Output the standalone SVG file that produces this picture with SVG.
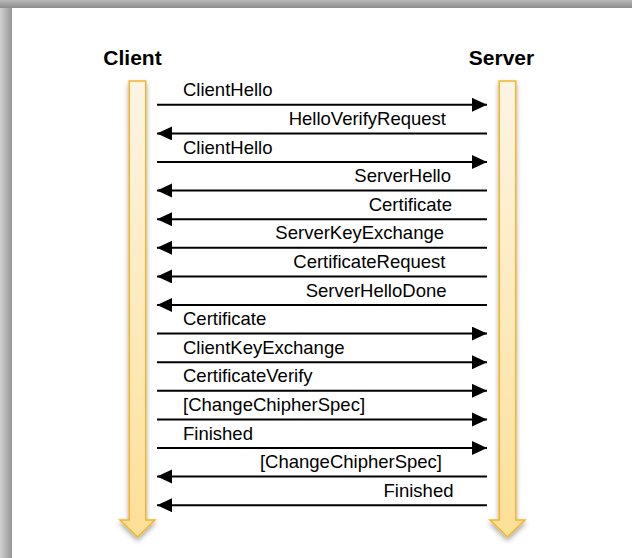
<svg xmlns="http://www.w3.org/2000/svg" width="632" height="558" viewBox="0 0 632 558">
<defs>
  <linearGradient id="leftGrad" x1="0" y1="0" x2="1" y2="0">
    <stop offset="0" stop-color="#d2d2d2"/>
    <stop offset="1" stop-color="#949494"/>
  </linearGradient>
  <linearGradient id="topGrad" x1="0" y1="0" x2="0" y2="1">
    <stop offset="0" stop-color="#b8b8b8"/>
    <stop offset="1" stop-color="#8c8c8c"/>
  </linearGradient>
  <linearGradient id="lifeGrad" x1="0" y1="0" x2="0" y2="1">
    <stop offset="0" stop-color="#fdf4e4"/>
    <stop offset="1" stop-color="#fde096"/>
  </linearGradient>
  <filter id="shadow" x="-50%" y="-10%" width="200%" height="130%">
    <feDropShadow dx="0" dy="3" stdDeviation="2.5" flood-color="#000" flood-opacity="0.35"/>
  </filter>
  <marker id="head" markerUnits="userSpaceOnUse" markerWidth="16" markerHeight="15" refX="15" refY="7" orient="auto">
    <path d="M0,0 L15,7 L0,14 Z" fill="#000"/>
  </marker>
  <style>
    .life { fill: url(#lifeGrad); stroke: #f2b52a; stroke-width: 1.5; filter: url(#shadow); }
    .hdr { font-family: "Liberation Sans", Arial, sans-serif; font-weight: bold; font-size: 21px; fill: #000; text-anchor: middle; }
    .msg { stroke: #000; stroke-width: 2; fill: none; marker-end: url(#head); }
    .lbl { font-family: "Liberation Sans", Arial, sans-serif; font-size: 18.5px; fill: #000; }
    .r { text-anchor: end; }
  </style>
</defs>

<!-- background frame -->
<rect x="0" y="0" width="632" height="558" fill="#ffffff"/>
<rect x="0" y="0" width="12" height="558" fill="url(#leftGrad)"/>
<rect x="0" y="0" width="632" height="8" fill="url(#topGrad)"/>

<g id="client">
  <text class="hdr" x="132.5" y="65">Client</text>
  <path class="life" d="M129.25,81 H145.75 V520 H155 L137.5,537 L120,520 H129.25 Z"/>
</g>

<g id="server">
  <text class="hdr" x="501.5" y="65">Server</text>
  <path class="life" d="M499.25,81 H515.75 V520 H525 L507.5,537 L490,520 H499.25 Z"/>
</g>

<g id="connectors">
  <g id="m1"><line class="msg" x1="157" y1="104.8" x2="487" y2="104.8"/><text class="lbl" x="183" y="96.3">ClientHello</text></g>
  <g id="m2"><line class="msg" x1="487" y1="133.4" x2="157" y2="133.4"/><text class="lbl r" x="446" y="124.9">HelloVerifyRequest</text></g>
  <g id="m3"><line class="msg" x1="157" y1="162" x2="487" y2="162"/><text class="lbl" x="183" y="153.5">ClientHello</text></g>
  <g id="m4"><line class="msg" x1="487" y1="190.6" x2="157" y2="190.6"/><text class="lbl r" x="451" y="182.1">ServerHello</text></g>
  <g id="m5"><line class="msg" x1="487" y1="219.2" x2="157" y2="219.2"/><text class="lbl r" x="452" y="210.7">Certificate</text></g>
  <g id="m6"><line class="msg" x1="487" y1="247.8" x2="157" y2="247.8"/><text class="lbl r" x="444" y="239.3">ServerKeyExchange</text></g>
  <g id="m7"><line class="msg" x1="487" y1="276.4" x2="157" y2="276.4"/><text class="lbl r" x="445.5" y="267.9">CertificateRequest</text></g>
  <g id="m8"><line class="msg" x1="487" y1="305" x2="157" y2="305" /><text class="lbl r" x="446.5" y="296.5">ServerHelloDone</text></g>
  <g id="m9"><line class="msg" x1="157" y1="333.6" x2="487" y2="333.6"/><text class="lbl" x="183" y="325.1">Certificate</text></g>
  <g id="m10"><line class="msg" x1="157" y1="362.2" x2="487" y2="362.2"/><text class="lbl" x="183" y="353.7">ClientKeyExchange</text></g>
  <g id="m11"><line class="msg" x1="157" y1="390.8" x2="487" y2="390.8"/><text class="lbl" x="183" y="382.3">CertificateVerify</text></g>
  <g id="m12"><line class="msg" x1="157" y1="419.4" x2="487" y2="419.4"/><text class="lbl" x="183" y="410.9">[ChangeChipherSpec]</text></g>
  <g id="m13"><line class="msg" x1="157" y1="448" x2="487" y2="448"/><text class="lbl" x="183" y="439.5">Finished</text></g>
  <g id="m14"><line class="msg" x1="487" y1="476.6" x2="157" y2="476.6"/><text class="lbl r" x="442" y="468.1">[ChangeChipherSpec]</text></g>
  <g id="m15"><line class="msg" x1="487" y1="505.2" x2="157" y2="505.2"/><text class="lbl r" x="453.5" y="496.7">Finished</text></g>
</g>
</svg>
